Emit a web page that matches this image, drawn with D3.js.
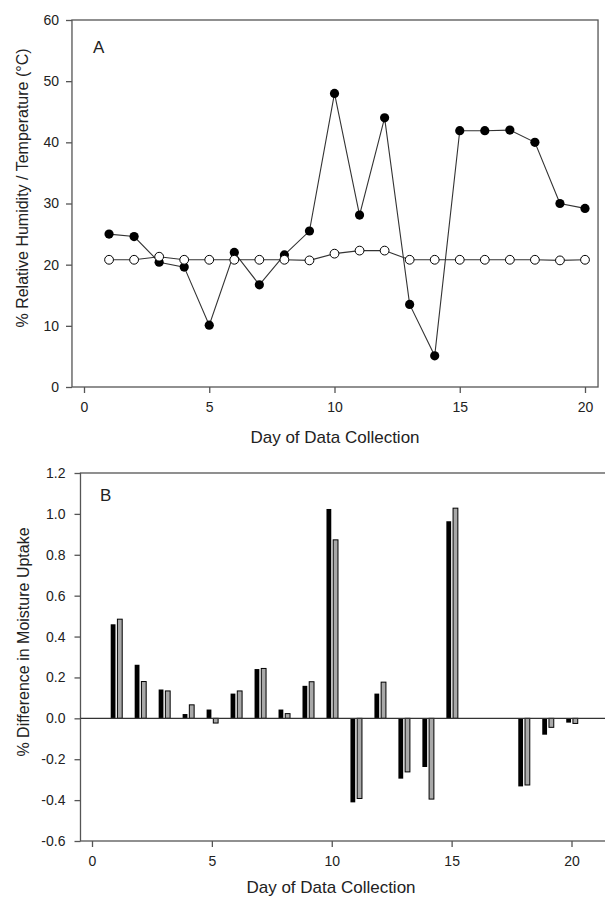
<!DOCTYPE html>
<html>
<head>
<meta charset="utf-8">
<script src="https://cdn.jsdelivr.net/npm/d3@7"></script>
<style>
  body { margin: 0; background: #fff; }
  svg { display: block; font-family: "Liberation Sans", Arial, sans-serif; }
  .axis path, .axis line { stroke: #555; stroke-width: 1.3px; }
  .axis text { font-size: 14px; fill: #222; }
  .title { font-size: 17px; fill: #222; }
  .ytitle { font-size: 16px; fill: #222; }
</style>
</head>
<body>
<svg id="chart" width="605" height="897"></svg>
<script>
const days = d3.range(1, 21);
// panel A
const humidity = [25.0, 24.6, 20.4, 19.6, 10.1, 22.0, 16.7, 21.6, 25.5, 48.0,
                  28.1, 44.0, 13.5, 5.1, 41.9, 41.9, 42.0, 40.0, 30.0, 29.2];
const temperature = [20.8, 20.8, 21.3, 20.8, 20.8, 20.8, 20.8, 20.8, 20.7, 21.8,
                     22.3, 22.3, 20.8, 20.8, 20.8, 20.8, 20.8, 20.8, 20.7, 20.8];
// panel B (null = no bar that day)
const uptakeBlack = [0.46, 0.262, 0.141, 0.021, 0.043, 0.121, 0.241, 0.043, 0.159, 1.024,
                     -0.411, 0.121, -0.295, -0.238, 0.964, null, null, -0.333, -0.080, -0.021];
const uptakeGray = [0.485, 0.180, 0.134, 0.066, -0.023, 0.134, 0.244, 0.023, 0.179, 0.873,
                    -0.392, 0.177, -0.262, -0.395, 1.028, null, null, -0.326, -0.044, -0.025];
const xTicks = [0, 5, 10, 15, 20];
const yTicksA = [0, 10, 20, 30, 40, 50, 60];
const yTicksB = [-0.6, -0.4, -0.2, 0, 0.2, 0.4, 0.6, 0.8, 1.0, 1.2];

const svg = d3.select("#chart");

function frame(g, x0, x1, y0, y1) {
  g.append("rect")
    .attr("x", x0).attr("y", y0)
    .attr("width", x1 - x0).attr("height", y1 - y0)
    .attr("fill", "none").attr("stroke", "#555").attr("stroke-width", 1.3);
}

// ---------- panel A ----------
const xA = d3.scaleLinear().domain([0, 20]).range([84, 585]);
const yA = d3.scaleLinear().domain([0, 60]).range([387, 20]);
const gA = svg.append("g");

frame(gA, xA(-0.48), xA(20.52), yA(60), yA(0));

gA.append("g").attr("class", "axis")
  .attr("transform", `translate(0,${yA(0)})`)
  .call(d3.axisBottom(xA).tickValues(xTicks).tickSize(6).tickPadding(9).tickSizeOuter(0))
  .call((g) => g.select(".domain").remove());

gA.append("g").attr("class", "axis")
  .attr("transform", `translate(${xA(-0.48)},0)`)
  .call(d3.axisLeft(yA).tickValues(yTicksA).tickSize(6).tickPadding(7).tickSizeOuter(0))
  .call((g) => g.select(".domain").remove());

const lineA = (vals) => d3.line().x((d, i) => xA(days[i])).y((d) => yA(d))(vals);

gA.append("path").attr("d", lineA(humidity))
  .attr("fill", "none").attr("stroke", "#333").attr("stroke-width", 1.1);
gA.append("path").attr("d", lineA(temperature))
  .attr("fill", "none").attr("stroke", "#333").attr("stroke-width", 1.1);

gA.selectAll("circle.hum").data(humidity).join("circle")
  .attr("class", "hum")
  .attr("cx", (d, i) => xA(days[i])).attr("cy", (d) => yA(d)).attr("r", 4.6)
  .attr("fill", "#000");

gA.selectAll("circle.temp").data(temperature).join("circle")
  .attr("class", "temp")
  .attr("cx", (d, i) => xA(days[i])).attr("cy", (d) => yA(d)).attr("r", 4.4)
  .attr("fill", "#fff").attr("stroke", "#000").attr("stroke-width", 1);

gA.append("text").attr("class", "title")
  .attr("x", 93).attr("y", 53).text("A");

gA.append("text").attr("class", "title")
  .attr("text-anchor", "middle")
  .attr("x", (xA(-0.48) + xA(20.52)) / 2).attr("y", 443)
  .text("Day of Data Collection");

gA.append("text").attr("class", "ytitle")
  .attr("text-anchor", "middle")
  .attr("transform", `translate(28,188) rotate(-90)`)
  .text("% Relative Humidity / Temperature (°C)");

// ---------- panel B ----------
const xB = d3.scaleLinear().domain([0, 20]).range([92, 571.5]);
const yB = d3.scaleLinear().domain([-0.6, 1.2]).range([841, 473]);
const gB = svg.append("g");

frame(gB, xB(-0.48), xB(23), yB(1.2), yB(-0.6));

gB.append("g").attr("class", "axis")
  .attr("transform", `translate(0,${yB(-0.6)})`)
  .call(d3.axisBottom(xB).tickValues(xTicks).tickSize(6).tickPadding(9).tickSizeOuter(0))
  .call((g) => g.select(".domain").remove());

const fmtB = d3.format(".1f");
gB.append("g").attr("class", "axis")
  .attr("transform", `translate(${xB(-0.48)},0)`)
  .call(d3.axisLeft(yB).tickValues(yTicksB).tickSize(6).tickPadding(9)
    .tickFormat((d) => fmtB(d).replace("\u2212", "-")).tickSizeOuter(0))
  .call((g) => g.select(".domain").remove());

const barW = 0.2;

gB.selectAll("rect.black").data(days.filter((d, i) => uptakeBlack[i] !== null)).join("rect")
  .attr("class", "black")
  .attr("x", (d) => xB(d - 0.22))
  .attr("width", xB(barW) - xB(0))
  .attr("y", (d) => yB(Math.max(0, uptakeBlack[d - 1])))
  .attr("height", (d) => Math.abs(yB(uptakeBlack[d - 1]) - yB(0)))
  .attr("fill", "#000");

gB.selectAll("rect.gray").data(days.filter((d, i) => uptakeGray[i] !== null)).join("rect")
  .attr("class", "gray")
  .attr("x", (d) => xB(d + 0.06))
  .attr("width", xB(barW) - xB(0))
  .attr("y", (d) => yB(Math.max(0, uptakeGray[d - 1])))
  .attr("height", (d) => Math.abs(yB(uptakeGray[d - 1]) - yB(0)))
  .attr("fill", "#a8a8a8").attr("stroke", "#000").attr("stroke-width", 1);

gB.append("line")
  .attr("x1", xB(-0.48)).attr("x2", xB(23))
  .attr("y1", yB(0)).attr("y2", yB(0))
  .attr("stroke", "#333").attr("stroke-width", 1.1);

gB.append("text").attr("class", "title")
  .attr("x", 100).attr("y", 501).text("B");

gB.append("text").attr("class", "title")
  .attr("text-anchor", "middle")
  .attr("x", 331).attr("y", 893)
  .text("Day of Data Collection");

gB.append("text").attr("class", "ytitle")
  .attr("text-anchor", "middle")
  .attr("transform", `translate(29,642) rotate(-90)`)
  .text("% Difference in Moisture Uptake");
</script>
</body>
</html>
